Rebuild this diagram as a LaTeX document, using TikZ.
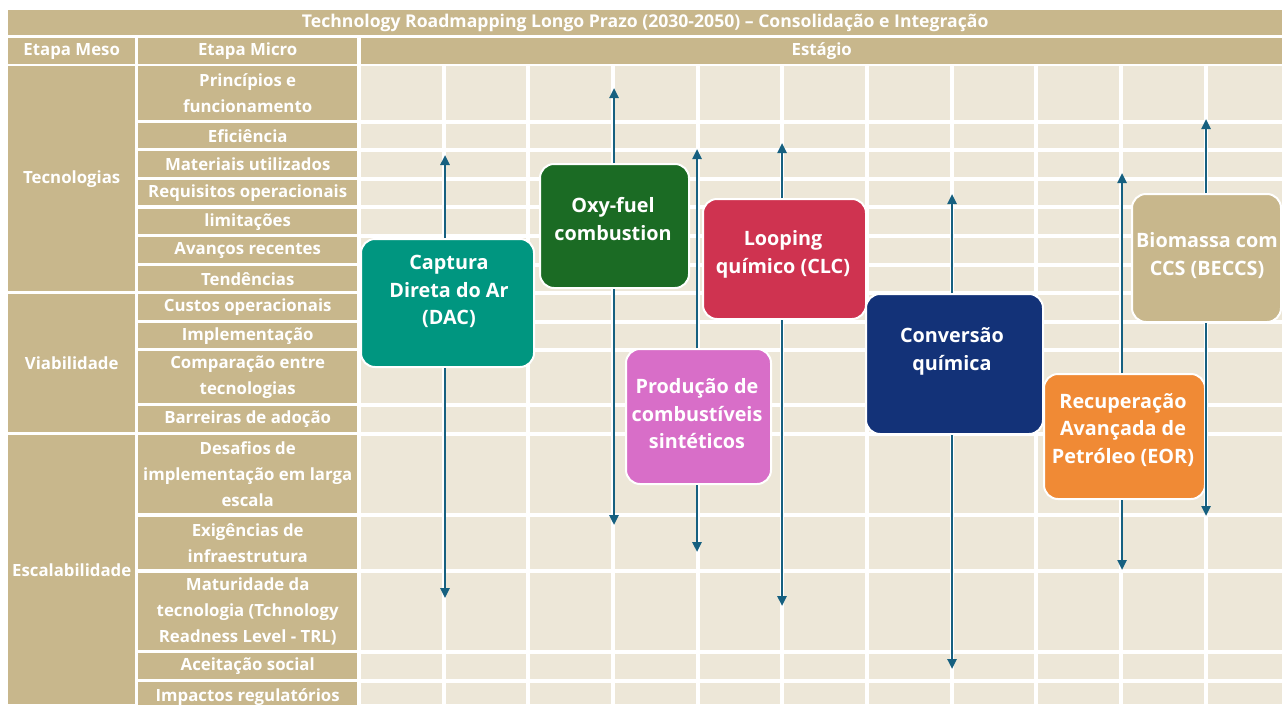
\documentclass[tikz,border=0pt]{standalone}
\usepackage{fontspec}
\setmainfont{Open Sans}
\usetikzlibrary{arrows.meta,calc}
\definecolor{tanc}{RGB}{200,183,140}
\definecolor{bgc}{RGB}{237,231,216}
\definecolor{tealc}{RGB}{0,150,128}
\definecolor{greenc}{RGB}{27,107,36}
\definecolor{orchidc}{RGB}{216,110,200}
\definecolor{crimsonc}{RGB}{207,51,80}
\definecolor{navyc}{RGB}{19,50,120}
\definecolor{orangec}{RGB}{240,138,53}
\definecolor{arrowc}{RGB}{22,96,128}
\tikzset{
 hcell/.style={fill=tanc, draw=none, inner sep=0pt, text=white, font=\bfseries\fontsize{16.8}{26}\selectfont, align=center, anchor=north west},
 rbox/.style={draw=white, line width=2pt, rounded corners=14pt, inner sep=0pt, anchor=north west},
 boxtxt/.style={text=white, font=\bfseries\fontsize{19.8}{27.5}\selectfont, align=center, inner sep=0pt},
 arr/.style={draw=arrowc, line width=2.4pt, -{Triangle[width=9pt,length=10pt]}},
 gridln/.style={draw=white, line width=4pt},
}
\newcommand{\cellnode}[6]{\node[hcell, minimum width={(#4)-(#2)}, minimum height={(#5)-(#3)}] (#1) at (#2,#3) {#6};}
\newcommand{\boxnode}[6]{\node[rbox, fill=#2, minimum width={(#5)-(#3)}, minimum height={(#6)-(#4)}] (#1) at (#3,#4) {};}
\begin{document}
\begin{tikzpicture}[x=1pt,y=-1pt]
\useasboundingbox (0,0) rectangle (1282,704);
\fill[white] (0,0) rectangle (1282,704);
% header
\cellnode{title}{8}{10}{1282}{35}{\fontsize{17.6}{26}\selectfont Technology Roadmapping Longo Prazo (2030-2050) – Consolidação e Integração}
\cellnode{hmeso}{8}{38}{135}{64}{Etapa Meso}
\cellnode{hmicro}{138}{38}{357}{64}{Etapa Micro}
\cellnode{hstage}{361}{38}{1282}{64}{Estágio}
% meso
\cellnode{tec}{8}{66}{135}{291}{\raisebox{-3pt}{Tecnologias}}
\cellnode{via}{8}{294}{135}{432}{Viabilidade}
\cellnode{esc}{8}{435}{135}{704}{\raisebox{-2pt}{Escalabilidade}}
% micro
\cellnode{m1}{138}{66}{357}{120}{Princípios e\\funcionamento}
\cellnode{m2}{138}{123}{357}{148}{Eficiência}
\cellnode{m3}{138}{151}{357}{177}{Materiais utilizados}
\cellnode{m4}{138}{180}{357}{205}{Requisitos operacionais}
\cellnode{m5}{138}{209}{357}{234}{limitações}
\cellnode{m6}{138}{237}{357}{263}{Avanços recentes}
\cellnode{m7}{138}{266}{357}{291}{Tendências}
\cellnode{m8}{138}{294}{357}{320}{Custos operacionais}
\cellnode{m9}{138}{323}{357}{348}{Implementação}
\cellnode{m10}{138}{351}{357}{403}{Comparação entre\\tecnologias}
\cellnode{m11}{138}{406}{357}{432}{Barreiras de adoção}
\cellnode{m12}{138}{435}{357}{513}{Desafios de\\implementação em larga\\escala}
\cellnode{m13}{138}{517}{357}{569}{Exigências de\\infraestrutura}
\cellnode{m14}{138}{573}{357}{650}{Maturidade da\\tecnologia (Tchnology\\Readness Level - TRL)}
\cellnode{m15}{138}{653}{357}{679}{Aceitação social}
\node[hcell, minimum width=219, minimum height=30] (m16) at (138,682) {\raisebox{4pt}{Impactos regulatórios}};
% grid
\fill[bgc] (361,66) rectangle (1282,704);
\foreach \gx in {443.5,528,613,697.5,782,866.5,951.5,1036,1121,1205.5}
  \draw[gridln] (\gx,66) -- (\gx,704);
\foreach \gy in {121.5,149.5,178.5,207,235.5,264.5,292.5,321.5,349.5,404.5,433.5,515,571,651.5,680.5}
  \draw[gridln] (361,\gy) -- (1282,\gy);
% boxes
\boxnode{dac}{tealc}{360}{238}{533}{366}
\boxnode{oxy}{greenc}{539}{163}{688}{287}
\boxnode{prod}{orchidc}{625}{348}{770}{483}
\boxnode{loop}{crimsonc}{702}{198}{865}{318}
\boxnode{conv}{navyc}{865}{293}{1042}{433}
\boxnode{eor}{orangec}{1043}{373}{1204}{498}
\boxnode{beccs}{tanc}{1131}{193}{1280}{321}
% arrow ends
\coordinate (dacU) at (445,155);   \coordinate (dacD) at (445,598);
\coordinate (oxyU) at (614,88);    \coordinate (oxyD) at (614,525);
\coordinate (prodU) at (697,149);  \coordinate (prodD) at (697,552);
\coordinate (loopU) at (782,143);  \coordinate (loopD) at (782,606);
\coordinate (convU) at (952,194);  \coordinate (convD) at (952,669);
\coordinate (eorU) at (1122,173);  \coordinate (eorD) at (1122,570);
\coordinate (beccsU) at (1206,119);\coordinate (beccsD) at (1206,516);
\foreach \b in {dac,oxy,prod,loop,conv,eor,beccs}{
  \draw[arr] (\b U |- \b.north) -- (\b U);
  \draw[arr] (\b D |- \b.south) -- (\b D);
}
% box texts
\node[boxtxt] (tdac) at (449,291.5) {Captura\\Direta do Ar\\(DAC)};
\node[boxtxt] (toxy) at (613,219) {Oxy-fuel\\combustion};
\node[boxtxt] (tprod) at (697,414) {Produção de\\combustíveis\\sintéticos};
\node[boxtxt] (tloop) at (783,254.5) {Looping\\químico (CLC)};
\node[boxtxt] (tconv) at (952,351.5) {Conversão\\química};
\node[boxtxt] (teor) at (1123,430) {Recuperação\\Avançada de\\Petróleo (EOR)};
\node[boxtxt] (tbeccs) at (1207,255.5) {Biomassa com\\CCS (BECCS)};
\end{tikzpicture}
\end{document}
